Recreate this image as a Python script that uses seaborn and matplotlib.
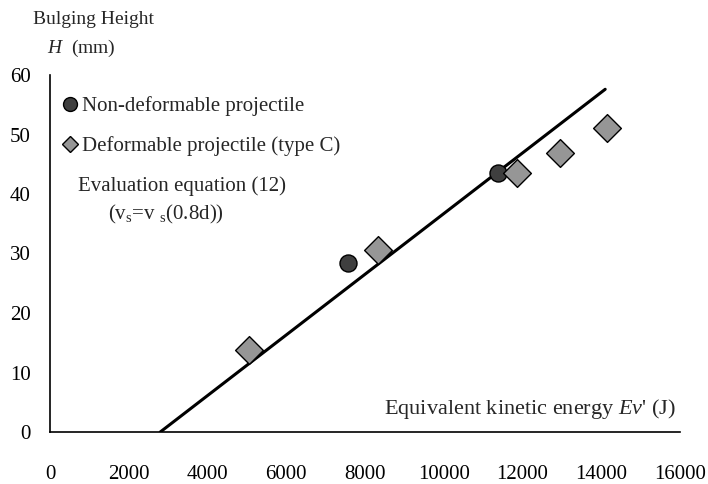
import numpy as np
import pandas as pd
import matplotlib
matplotlib.use("Agg")
import matplotlib.pyplot as plt
import seaborn as sns
from matplotlib.lines import Line2D

# data
rigid_energy = [7570, 11380]
rigid_height = [28.4, 43.5]
soft_energy = [5050, 8330, 11860, 12950, 14150]
soft_height = [13.8, 30.6, 43.5, 46.9, 51.1]
eq_energy = [2800, 14100]
eq_height = [0.0, 57.6]
x_ticks = [0, 2000, 4000, 6000, 8000, 10000, 12000, 14000, 16000]
y_ticks = [0, 10, 20, 30, 40, 50, 60]

sns.set_theme(style="white")
plt.rcParams['font.family'] = ['Liberation Serif', 'DejaVu Serif']
plt.rcParams['mathtext.fontset'] = 'custom'
plt.rcParams['mathtext.rm'] = 'Liberation Serif'
plt.rcParams['mathtext.it'] = 'Liberation Serif:italic'

W, H = 708, 484
fig = plt.figure(figsize=(W / 100, H / 100), dpi=100)
ax = fig.add_axes([50 / W, 1 - 432 / H, 630 / W, 357 / H])

df_rigid = pd.DataFrame({"energy": rigid_energy, "height": rigid_height})
df_soft = pd.DataFrame({"energy": soft_energy, "height": soft_height})
df_eq = pd.DataFrame({"energy": eq_energy, "height": eq_height})

sns.lineplot(data=df_eq, x="energy", y="height", color="black", linewidth=2.2, ax=ax, zorder=2)
sns.scatterplot(data=df_rigid, x="energy", y="height", marker="o", s=150,
                color="#3f3f3f", edgecolor="black", linewidth=1, ax=ax, zorder=3)
sns.scatterplot(data=df_soft, x="energy", y="height", marker="D", s=200,
                color="#969696", edgecolor="black", linewidth=1, ax=ax, zorder=3)

ax.set_xlim(0, 16000)
ax.set_ylim(0, 60)
ax.set_xticks(x_ticks)
ax.set_yticks(y_ticks)
ax.set_xlabel("")
ax.set_ylabel("")
for s in ["top", "right"]:
    ax.spines[s].set_visible(False)
for s in ["left", "bottom"]:
    ax.spines[s].set_color("black")
    ax.spines[s].set_linewidth(1.2)
ax.tick_params(axis="both", direction="in", length=8, width=1, color="black",
               labelsize=15, labelcolor="black")
ax.tick_params(axis="x", pad=24)
ax.tick_params(axis="y", pad=14)
ax.grid(False)

def fx(px):
    return px / W

def fy(py):
    return 1 - py / H

fig.text(fx(33), fy(20), "Bulging Height", fontsize=14, va="center", ha="left")
fig.text(fx(47), fy(48), r"$\it{H}$  (mm)", fontsize=14, va="center", ha="left")

handles = [
    Line2D([], [], linestyle="none", marker="o", markersize=10,
           markerfacecolor="#3f3f3f", markeredgecolor="black"),
    Line2D([], [], linestyle="none", marker="D", markersize=8.5,
           markerfacecolor="#969696", markeredgecolor="black"),
]
leg = ax.legend(handles, ["Non-deformable projectile", "Deformable projectile (type C)"],
                loc="upper left", bbox_to_anchor=(fx(47), fy(86)),
                bbox_transform=fig.transFigure, frameon=False, fontsize=15,
                handletextpad=0.0, handlelength=1.2, labelspacing=0.95, borderpad=0)

fig.text(fx(78), fy(186), "Evaluation equation (12)", fontsize=15, va="center", ha="left")
fig.text(fx(108), fy(214), r"(v$_\mathrm{s}$=v $_\mathrm{s}$(0.8d))", fontsize=15,
         va="center", ha="left")
fig.text(fx(676), fy(409), r"Equivalent kinetic energy $\it{Ev}$' (J)", fontsize=16,
         va="center", ha="right")

fig.savefig("out.png", dpi=100)
